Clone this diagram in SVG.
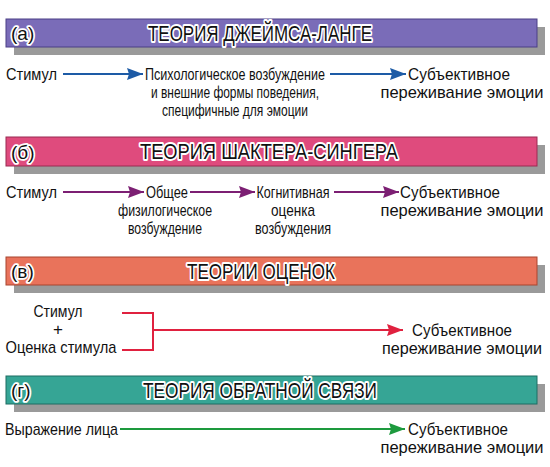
<svg xmlns="http://www.w3.org/2000/svg" width="550" height="467" viewBox="0 0 550 467">
<style>
.t{font-family:"Liberation Sans",Arial,sans-serif;font-size:17px;fill:#111;}
.m{text-anchor:middle;}
.ttl{font-family:"Liberation Sans",Arial,sans-serif;font-size:22px;fill:#111;stroke:#fff;stroke-width:4px;paint-order:stroke;stroke-linejoin:round;}
.lbl{font-family:"Liberation Sans",Arial,sans-serif;font-size:19px;fill:#111;stroke:#fff;stroke-width:3.5px;paint-order:stroke;stroke-linejoin:round;}
.sh{fill:#9a9a9a;}
.ln{fill:none;stroke-width:2;}
</style>
<defs>
<marker id="ab" markerUnits="userSpaceOnUse" markerWidth="17" markerHeight="12" refX="16" refY="6" orient="auto"><path d="M0,0 L16,6 L0,12 L2,6 z" fill="#1d5ba6"/></marker>
<marker id="ap" markerUnits="userSpaceOnUse" markerWidth="17" markerHeight="12" refX="16" refY="6" orient="auto"><path d="M0,0 L16,6 L0,12 L2,6 z" fill="#7c1f73"/></marker>
<marker id="ar" markerUnits="userSpaceOnUse" markerWidth="17" markerHeight="12" refX="16" refY="6" orient="auto"><path d="M0,0 L16,6 L0,12 L2,6 z" fill="#e0213f"/></marker>
<marker id="ag" markerUnits="userSpaceOnUse" markerWidth="17" markerHeight="12" refX="16" refY="6" orient="auto"><path d="M0,0 L16,6 L0,12 L2,6 z" fill="#1d9a3e"/></marker>
</defs>
<rect width="550" height="467" fill="#fff"/>

<g id="banner-a">
<rect class="sh" x="14" y="27" width="531" height="28"/>
<rect x="6" y="19" width="531" height="28" fill="#7a6cb8" stroke="#4b3f86" stroke-width="1"/>
<text class="lbl" x="11" y="40">(а)</text>
<text class="ttl" x="148" y="41" textLength="224" lengthAdjust="spacingAndGlyphs">ТЕОРИЯ ДЖЕЙМСА-ЛАНГЕ</text>
</g>
<g id="banner-b">
<rect class="sh" x="14" y="145" width="531" height="29"/>
<rect x="6" y="137" width="531" height="29" fill="#df4b7d" stroke="#9a2a52" stroke-width="1"/>
<text class="lbl" x="11" y="159">(б)</text>
<text class="ttl" x="140" y="159" textLength="258" lengthAdjust="spacingAndGlyphs">ТЕОРИЯ ШАКТЕРА-СИНГЕРА</text>
</g>
<g id="banner-c">
<rect class="sh" x="14" y="265" width="531" height="28"/>
<rect x="6" y="257" width="531" height="28" fill="#e9735b" stroke="#a8452f" stroke-width="1"/>
<text class="lbl" x="11" y="278">(в)</text>
<text class="ttl" x="187" y="279" textLength="148" lengthAdjust="spacingAndGlyphs">ТЕОРИИ ОЦЕНОК</text>
</g>
<g id="banner-d">
<rect class="sh" x="14" y="384" width="531" height="28"/>
<rect x="6" y="376" width="531" height="28" fill="#36a595" stroke="#1d6d62" stroke-width="1"/>
<text class="lbl" x="11" y="397">(г)</text>
<text class="ttl" x="143" y="398" textLength="234" lengthAdjust="spacingAndGlyphs">ТЕОРИЯ ОБРАТНОЙ СВЯЗИ</text>
</g>

<g id="a-stim"><text class="t" x="6" y="80" textLength="51" lengthAdjust="spacingAndGlyphs">Стимул</text></g>
<g id="a-psy">
<text class="t m" x="235" y="80" textLength="180" lengthAdjust="spacingAndGlyphs">Психологическое возбуждение</text>
<text class="t m" x="235" y="98" textLength="168" lengthAdjust="spacingAndGlyphs">и внешние формы поведения,</text>
<text class="t m" x="235" y="116" textLength="146" lengthAdjust="spacingAndGlyphs">специфичные для эмоции</text>
</g>
<g id="a-subj">
<text class="t m" x="459" y="80" textLength="102" lengthAdjust="spacingAndGlyphs">Субъективное</text>
<text class="t m" x="462" y="98" textLength="163" lengthAdjust="spacingAndGlyphs">переживание эмоции</text>
</g>

<g id="b-stim"><text class="t" x="6" y="198" textLength="51" lengthAdjust="spacingAndGlyphs">Стимул</text></g>
<g id="b-gen">
<text class="t m" x="167" y="198" textLength="42" lengthAdjust="spacingAndGlyphs">Общее</text>
<text class="t m" x="165" y="216" textLength="94" lengthAdjust="spacingAndGlyphs">физилогическое</text>
<text class="t m" x="165" y="234" textLength="74" lengthAdjust="spacingAndGlyphs">возбуждение</text>
</g>
<g id="b-cog">
<text class="t m" x="293" y="198" textLength="73" lengthAdjust="spacingAndGlyphs">Когнитивная</text>
<text class="t m" x="293" y="216" textLength="44" lengthAdjust="spacingAndGlyphs">оценка</text>
<text class="t m" x="293" y="234" textLength="76" lengthAdjust="spacingAndGlyphs">возбуждения</text>
</g>
<g id="b-subj">
<text class="t m" x="450" y="198" textLength="100" lengthAdjust="spacingAndGlyphs">Субъективное</text>
<text class="t m" x="462" y="216" textLength="163" lengthAdjust="spacingAndGlyphs">переживание эмоции</text>
</g>

<g id="c-stim">
<text class="t m" x="58" y="317" textLength="49" lengthAdjust="spacingAndGlyphs">Стимул</text>
<text class="t m" x="58" y="335">+</text>
<text class="t m" x="61" y="353" textLength="111" lengthAdjust="spacingAndGlyphs">Оценка стимула</text>
</g>
<g id="c-subj">
<text class="t m" x="462" y="336" textLength="100" lengthAdjust="spacingAndGlyphs">Субъективное</text>
<text class="t m" x="462" y="354" textLength="160" lengthAdjust="spacingAndGlyphs">переживание эмоции</text>
</g>

<g id="d-face"><text class="t" x="5" y="435" textLength="113" lengthAdjust="spacingAndGlyphs">Выражение лица</text></g>
<g id="d-subj">
<text class="t m" x="458" y="435" textLength="100" lengthAdjust="spacingAndGlyphs">Субъективное</text>
<text class="t m" x="462" y="453" textLength="163" lengthAdjust="spacingAndGlyphs">переживание эмоции</text>
</g>

<g id="connectors">
<line class="ln" x1="63" y1="74" x2="143" y2="74" stroke="#1d5ba6" marker-end="url(#ab)"/>
<line class="ln" x1="330" y1="74" x2="406" y2="74" stroke="#1d5ba6" marker-end="url(#ab)"/>
<line class="ln" x1="63" y1="192" x2="144" y2="192" stroke="#7c1f73" marker-end="url(#ap)"/>
<line class="ln" x1="190" y1="192" x2="255" y2="192" stroke="#7c1f73" marker-end="url(#ap)"/>
<line class="ln" x1="334" y1="192" x2="399" y2="192" stroke="#7c1f73" marker-end="url(#ap)"/>
<path class="ln" d="M122,313 H153 V350 H122" stroke="#e0213f"/>
<line class="ln" x1="153" y1="330" x2="403" y2="330" stroke="#e0213f" marker-end="url(#ar)"/>
<line class="ln" x1="120" y1="429" x2="405" y2="429" stroke="#1d9a3e" marker-end="url(#ag)"/>
</g>
</svg>
